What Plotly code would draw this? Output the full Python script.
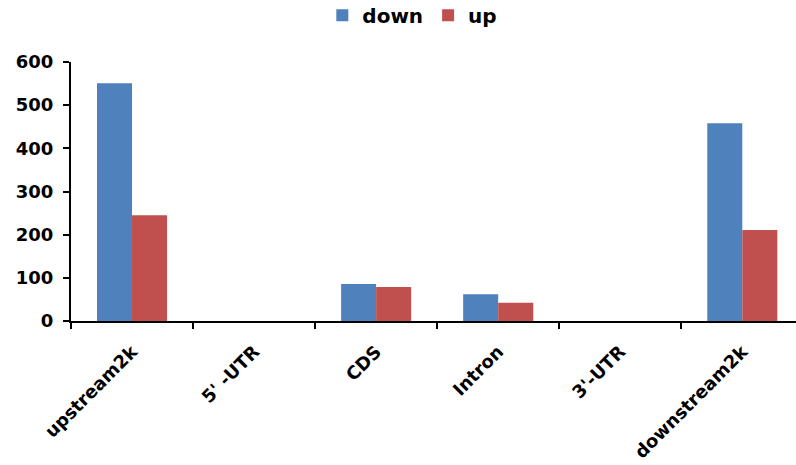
import plotly.graph_objects as go

categories = ["upstream2k", "5' -UTR", "CDS", "Intron", "3'-UTR", "downstream2k"]
down_values = [551, 0, 86, 62, 0, 458]
up_values = [245, 0, 79, 42, 0, 211]
y_ticks = [0, 100, 200, 300, 400, 500, 600]

BLUE = "#4F81BD"
RED = "#C0504D"
FONT = "DejaVu Sans, Arial, sans-serif"

fig = go.Figure()
fig.add_trace(go.Bar(
    name="down", x=categories, y=down_values,
    marker=dict(color=BLUE, line=dict(width=0)),
))
fig.add_trace(go.Bar(
    name="up", x=categories, y=up_values,
    marker=dict(color=RED, line=dict(width=0)),
))

fig.update_layout(
    width=796, height=465,
    margin=dict(l=71, r=0, t=62, b=144),
    paper_bgcolor="white", plot_bgcolor="white",
    barmode="group", bargap=0.426, bargroupgap=0,
    font=dict(family=FONT, color="black", size=17),
    legend=dict(
        orientation="h", x=0.518, xref="container", xanchor="center",
        y=0.967, yref="container", yanchor="middle",
        font=dict(family=FONT, size=20, color="black", weight="bold"),
        itemwidth=30, traceorder="normal",
    ),
    showlegend=True,
)

fig.update_xaxes(
    type="category", range=[-0.5, 5.44], automargin=False,
    showline=True, linecolor="black", linewidth=2,
    ticks="outside", tickson="boundaries", ticklen=6, tickwidth=2, tickcolor="black",
    tickangle=-45, showgrid=False, zeroline=False, ticklabelstandoff=11,
    tickfont=dict(family=FONT, size=18, color="black", weight="bold"),
)
fig.update_yaxes(
    range=[0, 600], tickvals=y_ticks, automargin=False,
    showline=True, linecolor="black", linewidth=2,
    ticks="outside", ticklen=6, tickwidth=2, tickcolor="black",
    showgrid=False, zeroline=False, ticklabelstandoff=6,
    tickfont=dict(family=FONT, size=18, color="black", weight="bold"),
)

fig.write_html("out.html")
